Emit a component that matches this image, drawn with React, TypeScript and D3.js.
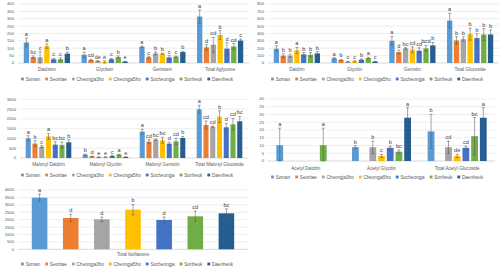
import React from "react";
import * as d3 from "d3";

// Cultivars shown in every panel, with their series colours
const cultivars = ["Soman", "Seoritae", "Cheongja3ho", "Cheongja5ho", "Socheongja", "Soriheuk", "Daenheuk"];
const cultivarColors = ["#5B9BD5", "#ED7D31", "#A5A5A5", "#FFC000", "#4472C4", "#70AD47", "#255E91"];

// Aglycones (µg/g)
const aglyconeCategories = ["Daidzein", "Glycitein", "Genistein", "Total Aglycone"];
const aglyconeMeans = [
  [139, 40, 38, 115, 25, 25, 63],
  [56, 20, 13, 7, 25, 40, 9],
  [110, 38, 65, 63, 38, 43, 74],
  [315, 106, 124, 190, 97, 112, 152],
];
const aglyconeErrors = [
  [30, 8, 38, 15, 6, 10, 10],
  [18, 5, 3, 8, 6, 8, 2],
  [5, 5, 10, 4, 12, 4, 5],
  [45, 18, 50, 30, 40, 20, 10],
];
const aglyconeLetters = [
  ["a", "bc", "c", "a", "c", "c", "b"],
  ["a", "cd", "de", "e", "c", "b", "e"],
  ["a", "c", "b", "b", "c", "c", "b"],
  ["a", "d", "cd", "b", "d", "cd", "c"],
];

// Glucosides
const glucosideCategories = ["Daidzin", "Glycitin", "Genistin", "Total Glucoside"];
const glucosideMeans = [
  [193, 99, 99, 171, 117, 112, 130],
  [63, 40, 18, 22, 45, 67, 18],
  [301, 148, 198, 180, 166, 198, 238],
  [575, 306, 324, 391, 337, 386, 386],
];
const glucosideErrors = [
  [40, 25, 20, 40, 25, 30, 25],
  [10, 8, 5, 8, 10, 10, 5],
  [60, 25, 10, 40, 40, 40, 40],
  [100, 50, 30, 80, 60, 80, 60],
];
const glucosideLetters = [
  ["a", "b", "b", "a", "b", "b", "b"],
  ["a", "b", "c", "c", "b", "a", "c"],
  ["a", "d", "bc", "cd", "cd", "bcd", "b"],
  ["a", "b", "b", "b", "b", "b", "b"],
];

// Malonyl glucosides
const malonylCategories = ["Malonyl Daidzin", "Malonyl Glycitin", "Malonyl Genistin", "Total Malonyl Glucoside"];
const malonylMeans = [
  [1006, 733, 580, 1108, 682, 665, 801],
  [170, 85, 51, 51, 102, 170, 51],
  [1347, 835, 937, 903, 733, 852, 1023],
  [2489, 1688, 1602, 2114, 1568, 1722, 1875],
];
const malonylErrors = [
  [130, 150, 50, 150, 150, 150, 130],
  [30, 10, 10, 10, 20, 20, 10],
  [120, 100, 30, 150, 80, 160, 80],
  [200, 200, 30, 300, 200, 300, 250],
];
const malonylLetters = [
  ["a", "b", "c", "a", "bc", "bc", "b"],
  ["b", "d", "e", "e", "c", "a", "e"],
  ["a", "cd", "bc", "bc", "d", "cd", "b"],
  ["a", "cd", "cd", "b", "d", "cd", "bc"],
];

// Acetyl glucosides
const acetylCategories = ["Acetyl Daidzin", "Acetyl Glycitin", "Total Acetyl Glucoside"];
const acetylMeans = [
  [10.2, 0, 0, 0, 0, 10.2, 0],
  [8.9, 0, 8.9, 3.2, 8.5, 6, 27.9],
  [19.1, 0, 8.9, 3.2, 8.5, 16, 27.9],
];
const acetylErrors = [
  [11, 0, 0, 0, 0, 11, 0],
  [1, 0, 4, 1, 1, 1, 6.5],
  [11, 0, 4, 1, 1, 12, 6.5],
];
const acetylLetters = [
  ["a", "", "", "", "", "a", ""],
  ["b", "", "b", "c", "b", "bc", "a"],
  ["b", "", "cd", "de", "cd", "bc", "a"],
];

// Total isoflavone
const totalCategories = ["Total Isoflavone"];
const totalMeans = [[3483, 2112, 2022, 2674, 1978, 2225, 2427]];
const totalErrors = [[250, 250, 150, 350, 200, 350, 300]];
const totalLetters = [["a", "d", "d", "b", "d", "cd", "bc"]];

const FONT = '"Liberation Sans", Arial, sans-serif';
const TEXT = "#595959";

let measureCtx: CanvasRenderingContext2D | null = null;
function textWidth(t: string, size: number): number {
  if (!measureCtx) measureCtx = document.createElement("canvas").getContext("2d");
  if (!measureCtx) return t.length * size * 0.5;
  measureCtx.font = `${size}px ${FONT}`;
  return measureCtx.measureText(t).width;
}

type PanelProps = {
  left: number; right: number; top: number; bottom: number;
  yMax: number; yStep: number;
  categories: string[];
  means: number[][]; errors: number[][]; letters: string[][];
  barPadding: number; clusterFrac: number;
  catY: number; legendY: number; legendCx: number;
};

function Panel(p: PanelProps) {
  const y = d3.scaleLinear().domain([0, p.yMax]).range([p.bottom, p.top]);
  const ticks = d3.range(0, p.yMax + p.yStep / 2, p.yStep);
  const xCat = d3.scaleBand<string>().domain(p.categories).range([p.left, p.right]).padding(0);
  const cw = xCat.bandwidth();
  const gap = (cw * (1 - p.clusterFrac)) / 2;
  const xSer = d3.scaleBand<number>().domain(d3.range(cultivars.length)).range([gap, cw - gap]).paddingInner(p.barPadding).paddingOuter(0);
  const bw = xSer.bandwidth();
  const cap = Math.min(bw * 0.6, 3);

  // legend layout
  const legSize = 4.6;
  const widths = cultivars.map((c) => 4.6 + textWidth(c, legSize));
  const spacing = 5;
  const totalW = d3.sum(widths) + spacing * (widths.length - 1);
  let lx = p.legendCx - totalW / 2;
  const legendItems = cultivars.map((c, i) => {
    const item = { x: lx, name: c, color: cultivarColors[i] };
    lx += widths[i] + spacing;
    return item;
  });

  return (
    <g>
      {ticks.map((t) => (
        <g key={t}>
          <line x1={p.left} x2={p.right} y1={y(t)} y2={y(t)} stroke={t === 0 ? "#BFBFBF" : "#E3E3E3"} strokeWidth={0.6} />
          <text x={p.left - 4} y={y(t)} dy="0.35em" textAnchor="end" fontSize={4.2} fill={TEXT} fontFamily={FONT}>{t}</text>
        </g>
      ))}
      {p.categories.map((cat, ci) => {
        const x0 = xCat(cat)!;
        return (
          <g key={cat}>
            {cultivars.map((_, si) => {
              const v = p.means[ci][si];
              if (v <= 0) return null;
              const e = p.errors[ci][si];
              const bx = x0 + xSer(si)!;
              const cx = bx + bw / 2;
              const hi = y(v + e);
              const lo = y(Math.max(0, v - e));
              return (
                <g key={si}>
                  <rect x={bx} y={y(v)} width={bw} height={p.bottom - y(v)} fill={cultivarColors[si]} />
                  {e > 0 && (
                    <g stroke="#5A5A5A" strokeWidth={0.55}>
                      <line x1={cx} x2={cx} y1={hi} y2={lo} />
                      <line x1={cx - cap / 2} x2={cx + cap / 2} y1={hi} y2={hi} />
                      <line x1={cx - cap / 2} x2={cx + cap / 2} y1={lo} y2={lo} />
                    </g>
                  )}
                  {p.letters[ci][si] && (
                    <text x={cx} y={hi - 2} textAnchor="middle" fontSize={5.6} fill="#404040" fontFamily={FONT}>
                      {p.letters[ci][si]}
                    </text>
                  )}
                </g>
              );
            })}
            <text x={x0 + cw / 2} y={p.catY} dy="0.35em" textAnchor="middle" fontSize={4.6} fill={TEXT} fontFamily={FONT}>{cat}</text>
          </g>
        );
      })}
      {legendItems.map((it) => (
        <g key={it.name}>
          <rect x={it.x} y={p.legendY - 1.4} width={2.8} height={2.8} fill={it.color} />
          <text x={it.x + 4.6} y={p.legendY} dy="0.35em" fontSize={legSize} fill={TEXT} fontFamily={FONT}>{it.name}</text>
        </g>
      ))}
    </g>
  );
}

export default function App() {
  return (
    <div style={{ position: "absolute", left: 0, top: 0, width: 500, height: 276, background: "#fff" }}>
      <svg width={500} height={276} viewBox="0 0 500 276">
        <rect width={500} height={276} fill="#fff" />
        <Panel left={18} right={249} top={4} bottom={63} yMax={400} yStep={50}
          categories={aglyconeCategories} means={aglyconeMeans} errors={aglyconeErrors} letters={aglyconeLetters}
          barPadding={0.22} clusterFrac={0.8} catY={69.5} legendY={79} legendCx={127} />
        <Panel left={268} right={499} top={4} bottom={63} yMax={800} yStep={100}
          categories={glucosideCategories} means={glucosideMeans} errors={glucosideErrors} letters={glucosideLetters}
          barPadding={0.22} clusterFrac={0.8} catY={69.5} legendY={79} legendCx={377} />
        <Panel left={20} right={248} top={99.3} bottom={158} yMax={3000} yStep={500}
          categories={malonylCategories} means={malonylMeans} errors={malonylErrors} letters={malonylLetters}
          barPadding={0.25} clusterFrac={0.8} catY={164} legendY={175} legendCx={127} />
        <Panel left={268} right={495} top={99} bottom={161} yMax={40} yStep={5}
          categories={acetylCategories} means={acetylMeans} errors={acetylErrors} letters={acetylLetters}
          barPadding={0.22} clusterFrac={0.78} catY={168} legendY={177} legendCx={377} />
        <Panel left={18} right={248} top={190} bottom={249.3} yMax={4000} yStep={500}
          categories={totalCategories} means={totalMeans} errors={totalErrors} letters={totalLetters}
          barPadding={0.5} clusterFrac={0.88} catY={254.5} legendY={264} legendCx={127} />
      </svg>
    </div>
  );
}
